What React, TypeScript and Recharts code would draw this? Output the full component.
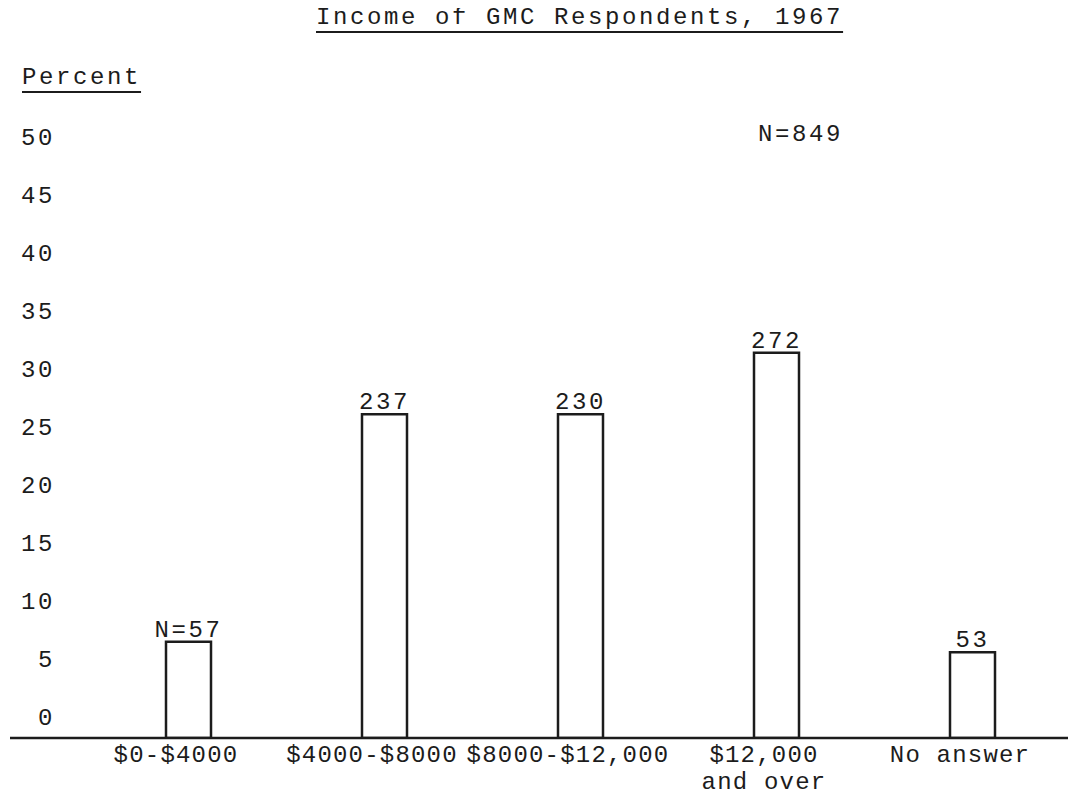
import React from 'react';
import { BarChart, Bar, XAxis, YAxis, LabelList } from 'recharts';

// ---- data ----
const categories = ['$0-$4000', '$4000-$8000', '$8000-$12,000', '$12,000\nand over', 'No answer'];
const percents = [6.5, 26.1, 26.1, 31.4, 5.6];
const barLabels = ['N=57', '237', '230', '272', '53'];
const yTicks = [0, 5, 10, 15, 20, 25, 30, 35, 40, 45, 50];
const Y_MAX = 50;
// the typed axis rule sits a little below the printed "0" line
const TYPED_BASELINE = -1.8;
const TITLE = 'Income of GMC Respondents, 1967';
const Y_TITLE = 'Percent';
const TOTAL_NOTE = 'N=849';

const data = categories.map((c, i) => ({ category: c, pct: percents[i], label: barLabels[i] }));

const INK = '#1c1c1c';
const FONT = '"Liberation Mono", "DejaVu Sans Mono", monospace';
const textStyle: React.CSSProperties = { fontFamily: FONT, fontSize: 24, letterSpacing: 2.6 };
const xTickStyle: React.CSSProperties = { fontFamily: FONT, fontSize: 24, letterSpacing: 1.2 };

const XTick = (props: any) => {
  const { x, y, payload } = props;
  const lines = String(payload.value).split('\n');
  return (
    <text x={x} y={y} textAnchor="middle" fill={INK} style={xTickStyle}>
      {lines.map((ln, i) => (
        <tspan key={i} x={x - 12} dy={i === 0 ? '0.33em' : 27}>
          {ln}
        </tspan>
      ))}
    </text>
  );
};

const YTick = (props: any) => {
  const { x, y, payload } = props;
  return (
    <text x={x} y={y} dy="0.33em" textAnchor="end" fill={INK} style={textStyle}>
      {payload.value}
    </text>
  );
};

export default function App() {
  return (
    <div style={{ position: 'relative', width: 1068, height: 788, background: '#fff' }}>
      <div
        style={{
          position: 'absolute', left: 308, top: -2, lineHeight: '24px', whiteSpace: 'pre',
          color: INK, ...textStyle,
          textDecoration: 'underline', textDecorationThickness: 2, textUnderlineOffset: 7,
        }}
      >
        {TITLE}
      </div>
      <div
        style={{
          position: 'absolute', left: 14, top: 58, lineHeight: '24px', whiteSpace: 'pre',
          color: INK, ...textStyle,
          textDecoration: 'underline', textDecorationThickness: 2, textUnderlineOffset: 7,
        }}
      >
        {Y_TITLE}
      </div>
      <div
        style={{
          position: 'absolute', left: 750, top: 115, lineHeight: '24px', whiteSpace: 'pre',
          color: INK, ...textStyle,
        }}
      >
        {TOTAL_NOTE}
      </div>
      <BarChart
        width={1068}
        height={788}
        data={data}
        margin={{ top: 129, right: 6, bottom: 0, left: 2 }}
      >
        <XAxis
          dataKey="category"
          type="category"
          height={58}
          padding={{ left: 80, right: 0 }}
          axisLine={{ stroke: INK, strokeWidth: 2.5 }}
          tickLine={false}
          tickSize={0}
          tickMargin={16}
          interval={0}
          tick={<XTick />}
        />
        <YAxis
          type="number"
          domain={[TYPED_BASELINE, Y_MAX]}
          allowDataOverflow
          ticks={yTicks}
          mirror
          axisLine={false}
          tickLine={false}
          tickSize={0}
          tickMargin={45}
          interval={0}
          tick={<YTick />}
        />
        <Bar
          dataKey={(d: any) => [TYPED_BASELINE, d.pct]}
          barSize={45}
          fill="#fff"
          stroke={INK}
          strokeWidth={2.5}
          isAnimationActive={false}
        >
          <LabelList dataKey="label" position="top" offset={5} fill={INK} style={textStyle} />
        </Bar>
      </BarChart>
    </div>
  );
}
